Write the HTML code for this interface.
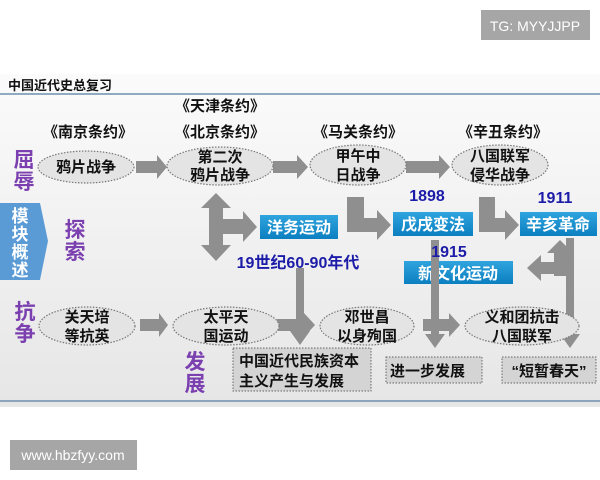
<!DOCTYPE html>
<html><head><meta charset="utf-8"><style>
html,body{margin:0;padding:0;background:#fff;}
body{width:600px;height:480px;position:relative;overflow:hidden;font-family:"Liberation Sans","Noto Sans CJK SC",sans-serif;}
svg{position:absolute;left:0;top:0;}
</style></head><body>
<svg width="600" height="480" viewBox="0 0 600 480" font-family="Liberation Sans, Noto Sans CJK SC, sans-serif">
<defs>
<linearGradient id="bg" x1="0" y1="0" x2="0" y2="1"><stop offset="0" stop-color="#fbfbfb"/><stop offset="1" stop-color="#e6e6e6"/></linearGradient>
<linearGradient id="bl" x1="0" y1="0" x2="0" y2="1"><stop offset="0" stop-color="#2fa4de"/><stop offset="1" stop-color="#0b7fc0"/></linearGradient>
</defs>
<rect x="0" y="74" width="600" height="333" fill="url(#bg)"/>
<rect x="481" y="10" width="109" height="30" fill="#a6a6a6"/>
<text x="535" y="31" font-size="14" fill="#fff" text-anchor="middle">TG: MYYJJPP</text>
<rect x="10" y="440" width="127" height="30" fill="#a6a6a6"/>
<text x="73" y="460" font-size="14" fill="#fff" text-anchor="middle">www.hbzfyy.com</text>
<text x="8" y="90" font-size="13" fill="#111" font-weight="bold">中国近代史总复习</text>
<line x1="0" y1="94" x2="600" y2="94" stroke="#6f8fae" stroke-width="1.5"/>
<line x1="0" y1="401" x2="600" y2="401" stroke="#6f8fae" stroke-width="1.5"/>

<polygon points="0,203 40,203 48,241 40,280 0,280" fill="#5b9bd5"/>
<g font-size="17" fill="#fff" text-anchor="middle" font-weight="bold">
<text x="20" y="222">模</text><text x="20" y="240">块</text><text x="20" y="258">概</text><text x="20" y="276">述</text></g>
<g font-size="21" fill="#7b3fb0" font-weight="bold" text-anchor="middle">
<text x="24" y="167">屈</text><text x="24" y="189">辱</text>
<text x="75" y="237">探</text><text x="75" y="259">索</text>
<text x="25" y="319">抗</text><text x="25" y="341">争</text>
<text x="195" y="369">发</text><text x="195" y="391">展</text></g>

<g font-size="15" font-weight="bold" fill="#111" text-anchor="middle">
<text x="88" y="137">《南京条约》</text>
<text x="220" y="111">《天津条约》</text>
<text x="220" y="137">《北京条约》</text>
<text x="358" y="137">《马关条约》</text>
<text x="503" y="137">《辛丑条约》</text></g>

<g fill="#8f8f8f">
<polygon points="136,161 157,161 157,155 167,167 157,179 157,173 136,173"/>
<polygon points="273,161 297,161 297,155 308,167 297,179 297,173 273,173"/>
<polygon points="406,161 439,161 439,155 450,167 439,179 439,173 406,173"/>
<polygon points="140,319 159,319 159,313 168,325 159,337 159,331 140,331"/>
<polygon points="277,319 304,319 304,313 315,325 304,337 304,331 277,331"/>
<polygon points="423,319 449,319 449,313 460,325 449,337 449,331 423,331"/>
<polygon points="216,193 231,208 223,208 223,219 243,219 243,211 257,227 243,242 243,234 223,234 223,245 231,245 216,261 201,245 209,245 209,208 201,208"/>
<polygon points="347,197 364,197 364,218 377,218 377,210 391,225 377,240 377,232 347,232"/>
<polygon points="479,197 495,197 495,218 505,218 505,210 519,225 505,240 505,232 479,232"/>
<polygon points="296,268 304,268 304,331 310,331 300,345 290,331 296,331"/>
<polygon points="431,240 439,240 439,334 445,334 435,348 425,334 431,334"/>
<polygon points="566,238 574,238 574,334 580,334 570,348 560,334 566,334"/>
<polygon points="554,276 566,276 566,253 573,253 560,240 547,253 554,253 554,262 541,262 541,255 527,268 541,281 541,274 554,274"/>
</g>

<g fill="#e4e4e4" stroke="#777" stroke-width="1.2" stroke-dasharray="1.5,1.5">
<ellipse cx="86" cy="167" rx="48" ry="16"/>
<ellipse cx="220" cy="166" rx="53" ry="19"/>
<ellipse cx="358" cy="165" rx="48" ry="20"/>
<ellipse cx="500" cy="165" rx="48" ry="20"/>
<ellipse cx="87" cy="326" rx="48" ry="19"/>
<ellipse cx="226" cy="326" rx="53" ry="19"/>
<ellipse cx="367" cy="326" rx="47" ry="19"/>
<ellipse cx="522" cy="326" rx="57" ry="19"/>
</g>
<g font-size="15" fill="#111" text-anchor="middle" font-weight="bold">
<text x="86" y="172">鸦片战争</text>
<text x="220" y="162">第二次</text><text x="220" y="180">鸦片战争</text>
<text x="358" y="161">甲午中</text><text x="358" y="180">日战争</text>
<text x="500" y="161">八国联军</text><text x="500" y="180">侵华战争</text>
<text x="87" y="322">关天培</text><text x="87" y="341">等抗英</text>
<text x="226" y="322">太平天</text><text x="226" y="341">国运动</text>
<text x="367" y="322">邓世昌</text><text x="367" y="341">以身殉国</text>
<text x="522" y="322">义和团抗击</text><text x="522" y="341">八国联军</text>
</g>

<g fill="url(#bl)">
<rect x="260" y="215" width="78" height="24"/>
<rect x="393" y="212" width="80" height="24"/>
<rect x="520" y="212" width="77" height="24"/>
<rect x="404" y="261" width="109" height="23"/>
</g>
<g font-size="16" fill="#fff" text-anchor="middle" font-weight="bold">
<text x="299" y="233">洋务运动</text>
<text x="433" y="230">戊戌变法</text>
<text x="558" y="230">辛亥革命</text>
<text x="458" y="279">新文化运动</text></g>
<rect x="431" y="242" width="8" height="42" fill="#8f8f8f"/>
<g font-size="16" fill="#1c1ca8" text-anchor="middle" font-weight="bold">
<text x="427" y="201">1898</text>
<text x="555" y="203">1911</text>
<text x="449" y="257">1915</text>
<text x="298" y="268">19世纪60-90年代</text></g>

<g fill="#d4d4d4" stroke="#666" stroke-width="1" stroke-dasharray="1.5,1.5">
<rect x="233" y="348" width="138" height="43"/>
<rect x="386" y="357" width="96" height="26"/>
<rect x="502" y="357" width="94" height="26"/>
</g>
<g font-size="15" fill="#111" font-weight="bold">
<text x="239" y="366">中国近代民族资本</text>
<text x="239" y="386">主义产生与发展</text>
<text x="390" y="376">进一步发展</text>
<text x="549" y="376" text-anchor="middle">“短暂春天”</text></g>
</svg>
</body></html>
